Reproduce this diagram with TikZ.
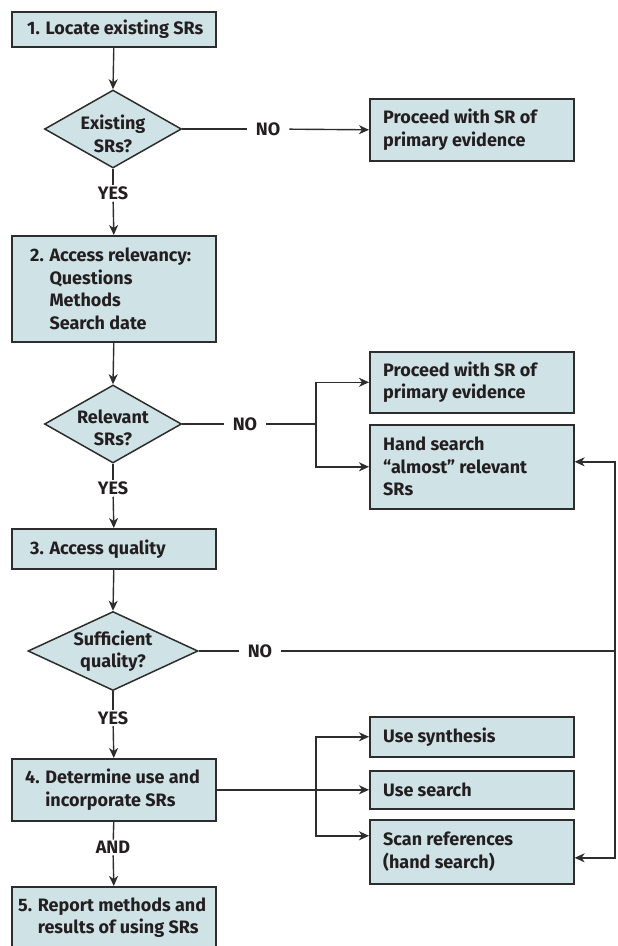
\documentclass[tikz,border=0pt]{standalone}
\usepackage{fontspec}
\setmainfont{Fira Sans}
\usetikzlibrary{shapes.geometric,arrows.meta}
\definecolor{boxfill}{RGB}{207,226,230}
\definecolor{linec}{RGB}{45,45,45}
\definecolor{txt}{RGB}{35,31,32}
\begin{document}
\begin{tikzpicture}[x=1pt,y=-1pt,
  font=\fontsize{18}{22.5}\selectfont\bfseries,
  text=txt,
  box/.style={draw=linec, fill=boxfill, line width=1.6pt, inner sep=0pt, anchor=north west, minimum width=204pt},
  dia/.style={draw=linec, fill=boxfill, line width=1.5pt, diamond, inner sep=0pt},
  txtl/.style={anchor=west, align=left, inner sep=0pt},
  txtc/.style={align=center, inner sep=0pt},
  lbl/.style={fill=white, inner xsep=9pt, inner ysep=1.5pt},
  ln/.style={draw=linec, line width=1.4pt},
  arr/.style={ln, -{Stealth[length=10pt,width=9pt,inset=3pt]}},
]
\useasboundingbox (0,0) rectangle (618,946);

% left column
\node[box, minimum height=35pt] (b1) at (11,11) {};
\node[txtl] (t1) at ([xshift=16pt]b1.west) {1. Locate existing SRs};

\node[dia, minimum width=137pt, minimum height=78pt] (d1) at (113,129) {};
\node[txtc, yshift=-5pt] (td1) at (d1) {Existing\\SRs?};

\node[box, minimum height=106pt] (b2) at (11,235) {};
\node[txtl] (t2) at ([xshift=19pt]b2.west) {2. Access relevancy:\\\hphantom{2. }Questions\\\hphantom{2. }Methods\\\hphantom{2. }Search date};

\node[dia, minimum width=137pt, minimum height=78pt] (d2) at (113,424) {};
\node[txtc, yshift=-4pt] (td2) at (d2) {Relevant\\SRs?};

\node[box, minimum height=40pt] (b3) at (11,528) {};
\node[txtl] (t3) at ([xshift=19pt]b3.west) {3. Access quality};

\node[dia, minimum width=170pt, minimum height=79pt] (d3) at (113,651) {};
\node[txtc] (td3) at (d3) {Sufficient\\quality?};

\node[box, minimum height=62pt] (b4) at (11,758) {};
\node[txtl] (t4) at ([xshift=14pt]b4.west) {4. Determine use and\\\hphantom{4. }incorporate SRs};

\node[box, minimum height=62pt] (b5) at (11,886) {};
\node[txtl] (t5) at ([xshift=7pt]b5.west) {5. Report methods and\\\hphantom{5. }results of using SRs};

% right column
\node[box, minimum height=62pt] (p1) at (369,98) {};
\node[txtl] (tp1) at ([xshift=14pt]p1.west) {Proceed with SR of\\primary evidence};

\node[box, minimum height=61pt] (p2) at (369,351) {};
\node[txtl] (tp2) at ([xshift=14pt]p2.west) {Proceed with SR of\\primary evidence};

\node[box, minimum height=84pt] (h) at (369,424) {};
\node[txtl] (th) at ([xshift=14pt]h.west) {Hand search\\“almost” relevant\\SRs};

\node[box, minimum height=40pt] (syn) at (369,716) {};
\node[txtl] (tsyn) at ([xshift=14pt]syn.west) {Use synthesis};

\node[box, minimum height=38pt] (srch) at (369,770) {};
\node[txtl] (tsrch) at ([xshift=14pt]srch.west) {Use search};

\node[box, minimum height=64pt] (scan) at (369,819) {};
\node[txtl] (tscan) at ([xshift=14pt]scan.west) {Scan references\\(hand search)};

% labels
\node[lbl] (no1) at (268,129) {NO};
\node[lbl] (no2) at (245,424) {NO};
\node[lbl] (no3) at (260,651) {NO};
\node[lbl, inner xsep=1pt] (yes1) at (113,193.5) {YES};
\node[lbl, inner xsep=1pt] (yes2) at (113,488.5) {YES};
\node[lbl, inner xsep=1pt] (yes3) at (113,718) {YES};
\node[lbl, inner xsep=1pt] (and) at (113,847.5) {AND};

\coordinate (j1) at (316,424);
\coordinate (j2) at (316,789);
\coordinate (r1) at (615,651);

% connectors
\draw[arr] (b1.south) -- (d1.north);
\draw[ln] (d1.east) -- (no1);
\draw[arr] (no1) -- (p1.west);
\draw[ln] (d1.south) -- (yes1);
\draw[arr] (yes1) -- (b2.north);
\draw[arr] (b2.south) -- (d2.north);
\draw[ln] (d2.east) -- (no2);
\draw[ln] (no2) -- (j1);
\draw[arr] (j1) |- (p2.west);
\draw[arr] (j1) |- (h.west);
\draw[ln] (d2.south) -- (yes2);
\draw[arr] (yes2) -- (b3.north);
\draw[arr] (b3.south) -- (d3.north);
\draw[ln] (d3.east) -- (no3);
\draw[ln] (no3) -- (r1);
\draw[arr] (r1) |- ([yshift=5pt]h.east);
\draw[arr] (r1) |- ([yshift=-6pt]scan.east);
\draw[ln] (d3.south) -- (yes3);
\draw[arr] (yes3) -- (b4.north);
\draw[arr] (b4.east) -- (srch.west);
\draw[arr] (j2) |- (syn.west);
\draw[arr] (j2) |- ([yshift=16pt]scan.west);
\draw[ln] (b4.south) -- (and);
\draw[arr] (and) -- (b5.north);
\end{tikzpicture}
\end{document}
